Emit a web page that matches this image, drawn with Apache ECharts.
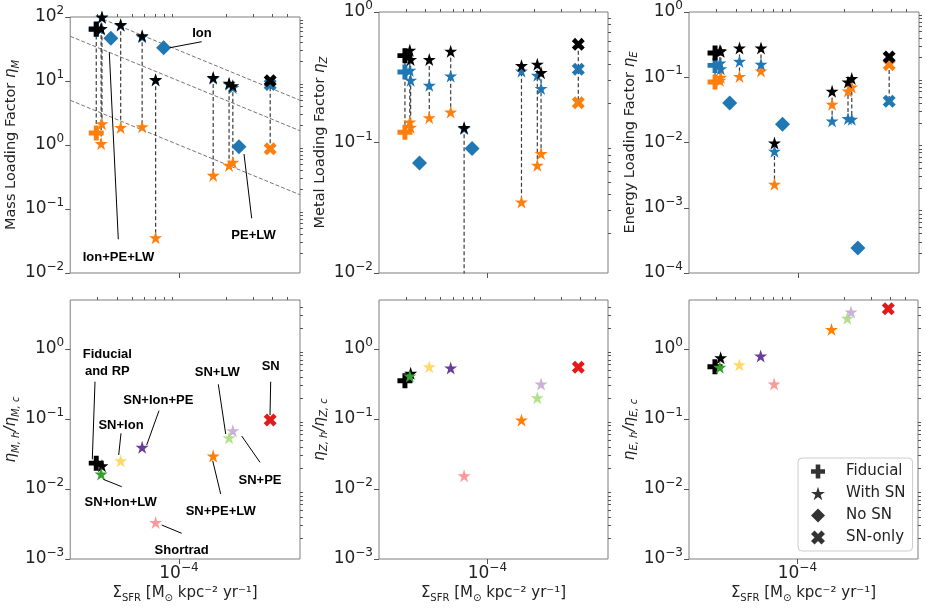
<!DOCTYPE html>
<html>
<head>
<meta charset="utf-8">
<title>Loading factors</title>
<script src="https://cdn.jsdelivr.net/npm/echarts@6/dist/echarts.min.js"></script>
<style>
    html, body {margin: 0; padding: 0; background: #ffffff;}
    #chart {width: 926px; height: 611px;}
</style>
</head>
<body>
<div id="chart"></div>
<script>
// ---- runs with supernovae (x = Sigma_SFR) ----
var runNames  = ['Fiducial', 'RP', 'SN+Ion+LW', 'SN+Ion', 'SN+Ion+PE', 'Shortrad', 'SN+PE+LW', 'SN+LW', 'SN+PE', 'SN'];
var runSfr    = [2.94e-5, 3.2e-5, 3.16e-5, 4.22e-5, 5.8e-5, 7.08e-5, 1.66e-4, 2.1e-4, 2.22e-4, 3.86e-4];
var runMarker = ['plus', 'star', 'star', 'star', 'star', 'star', 'star', 'star', 'star', 'cross'];
var runColors = ['#000000', '#000000', '#33a02c', '#ffd966', '#6a3d9a', '#fb9a99', '#ff7f00', '#b2df8a', '#cab2d6', '#e31a1c'];

// loading factors: total (black), cold (blue), hot (orange)
var massTotal   = [65, 100, 66, 76, 51, 10.5, 11.3, 9.2, 8.45, 10.1];
var massCold    = [63.5, 98, 65, 74, 49, 10.4, 11.0, 8.9, 7.9, 8.8];
var massHot     = [1.54, 2.15, 1.05, 1.88, 1.93, 0.0356, 0.335, 0.48, 0.537, 0.87];
var metalTotal  = [0.463, 0.432, 0.509, 0.432, 0.50, 0.130, 0.388, 0.398, 0.343, 0.565];
var metalCold   = [0.347, 0.30, 0.357, 0.274, 0.323, 0.128, 0.353, 0.327, 0.259, 0.364];
var metalHot    = [0.120, 0.131, 0.1435, 0.155, 0.171, 0.002, 0.035, 0.0669, 0.0822, 0.202];
var energyTotal = [0.235, 0.25, 0.255, 0.281, 0.281, 0.00984, 0.061, 0.0846, 0.0953, 0.205];
var energyCold  = [0.152, 0.135, 0.165, 0.175, 0.158, 0.00733, 0.0214, 0.0232, 0.0227, 0.0428];
var energyHot   = [0.0846, 0.10, 0.09, 0.103, 0.125, 0.00229, 0.0385, 0.0616, 0.071, 0.156];

// hot / cold ratios
var massRatio   = [0.0234, 0.0214, 0.0163, 0.0253, 0.0393, 0.00333, 0.0295, 0.0539, 0.0678, 0.0964];
var metalRatio  = [0.351, 0.448, 0.41, 0.557, 0.533, 0.0154, 0.0964, 0.201, 0.315, 0.546];
var energyRatio = [0.557, 0.748, 0.546, 0.595, 0.792, 0.315, 1.9, 2.74, 3.37, 3.75];

// ---- runs without supernovae ----
var noSnNames  = ['Ion+PE+LW', 'Ion', 'PE+LW'];
var noSnSfr    = [3.65e-5, 7.97e-5, 2.43e-4];
var noSnMass   = [46.5, 33, 0.94];
var noSnMetal  = [0.0697, 0.0898, null];
var noSnEnergy = [0.0403, 0.019, 2.42e-4];

// constant outflow-rate guide lines (end points)
var guideLines = [
    [[3.0e-5, 100], [6e-4, 5.0]],
    [[2e-5, 50], [6e-4, 1.67]],
    [[2e-5, 5], [6e-4, 0.167]]
];

// ---- axes ----
var xRange = [2e-5, 6e-4];
var xMajorTicks = [1e-4];
var xTickLabels = ['{b|10}{p|−4}'];
var yRanges = [[1e-2, 1e2], [1e-2, 1], [1e-4, 1], [1e-3, 5], [1e-3, 5], [1e-3, 5]];
var yMajorTicks = [
    [1e-2, 1e-1, 1, 10, 100],
    [1e-2, 1e-1, 1],
    [1e-4, 1e-3, 1e-2, 1e-1, 1],
    [1e-3, 1e-2, 1e-1, 1],
    [1e-3, 1e-2, 1e-1, 1],
    [1e-3, 1e-2, 1e-1, 1]
];
var yTickLabels = [
    ['{b|10}{p|−2}', '{b|10}{p|−1}', '{b|10}{p|0}', '{b|10}{p|1}', '{b|10}{p|2}'],
    ['{b|10}{p|−2}', '{b|10}{p|−1}', '{b|10}{p|0}'],
    ['{b|10}{p|−4}', '{b|10}{p|−3}', '{b|10}{p|−2}', '{b|10}{p|−1}', '{b|10}{p|0}'],
    ['{b|10}{p|−3}', '{b|10}{p|−2}', '{b|10}{p|−1}', '{b|10}{p|0}'],
    ['{b|10}{p|−3}', '{b|10}{p|−2}', '{b|10}{p|−1}', '{b|10}{p|0}'],
    ['{b|10}{p|−3}', '{b|10}{p|−2}', '{b|10}{p|−1}', '{b|10}{p|0}']
];
var yNames = [
    'Mass Loading Factor {i|η}{s|M}',
    'Metal Loading Factor {i|η}{s|Z}',
    'Energy Loading Factor {i|η}{s|E}',
    '{i|η}{s|M, h}{i|/η}{s|M, c}',
    '{i|η}{s|Z, h}{i|/η}{s|Z, c}',
    '{i|η}{s|E, h}{i|/η}{s|E, c}'
];
var xName = '{n|Σ}{s|SFR}{n| [M}{s|⊙}{n| kpc⁻² yr⁻¹]}';

var grids = [
    {left: 68,  top: 17,  width: 232, height: 256},
    {left: 379, top: 12,  width: 229, height: 261},
    {left: 689, top: 12,  width: 230, height: 261},
    {left: 68,  top: 300, width: 232, height: 259},
    {left: 379, top: 300, width: 229, height: 259},
    {left: 689, top: 300, width: 229, height: 259}
];
var yNameGaps = [43, 44, 44, 43, 44, 43];

var FONT = 'DejaVu Sans';
var C_COLD = '#1f77b4', C_HOT = '#ff7f0e';

var SYM = {
    star: 'path://M0,-1 L0.2245,-0.309 L0.951,-0.309 L0.363,0.118 L0.588,0.809 L0,0.382 L-0.588,0.809 L-0.363,0.118 L-0.951,-0.309 L-0.2245,-0.309 Z',
    plus: 'path://M-1,-0.33 L-0.33,-0.33 L-0.33,-1 L0.33,-1 L0.33,-0.33 L1,-0.33 L1,0.33 L0.33,0.33 L0.33,1 L-0.33,1 L-0.33,0.33 L-1,0.33 Z',
    cross: 'path://M-0.467,-0.941 L0,-0.467 L0.467,-0.941 L0.941,-0.467 L0.467,0 L0.941,0.467 L0.467,0.941 L0,0.467 L-0.467,0.941 L-0.941,0.467 L-0.467,0 L-0.941,-0.467 Z',
    diamond: 'diamond'
};
var SIZE = {star: 13, plus: 15, cross: 13, diamond: 15};

function minorTicks(lo, hi) {
    var out = [];
    for (var e = Math.floor(Math.log10(lo)); e <= Math.ceil(Math.log10(hi)); e++) {
        for (var m = 2; m <= 9; m++) {
            var v = m * Math.pow(10, e);
            if (v > lo * 1.0001 && v < hi * 0.9999) out.push(v);
        }
    }
    return out;
}

function labelFor(ticks, labels) {
    return function (v) {
        for (var k = 0; k < ticks.length; k++) {
            if (Math.abs(Math.log10(v / ticks[k])) < 1e-6) return labels[k];
        }
        return '';
    };
}

var tickColor = '#555555';
var tickRich = {
    b: {fontFamily: FONT, fontSize: 17, color: '#222222', lineHeight: 24},
    p: {fontFamily: FONT, fontSize: 12, color: '#222222', verticalAlign: 'top', lineHeight: 24}
};
var subRich = {
    i: {fontFamily: FONT, fontStyle: 'italic', fontSize: 15},
    s: {fontFamily: FONT, fontStyle: 'italic', fontSize: 10, verticalAlign: 'bottom'},
    n: {fontFamily: FONT, fontSize: 15}
};

var xAxes = [], yAxes = [];
grids.forEach(function (g, i) {
    var bottomRow = i >= 3;
    xAxes.push({
        type: 'log', logBase: 10, gridIndex: i, min: xRange[0], max: xRange[1],
        axisLine: {show: false},
        axisTick: {show: true, length: 5, lineStyle: {color: tickColor}, customValues: xMajorTicks},
        axisLabel: {show: bottomRow, customValues: xMajorTicks, margin: 3, rich: tickRich,
            formatter: labelFor(xMajorTicks, xTickLabels)},
        splitLine: {show: false},
        name: bottomRow ? xName : '', nameLocation: 'middle', nameGap: 19,
        nameTextStyle: {fontFamily: FONT, fontSize: 15, color: '#222222', lineHeight: 20,
            rich: {n: {fontFamily: FONT, fontSize: 15}, s: {fontFamily: FONT, fontSize: 10, verticalAlign: 'bottom'}}}
    });
    yAxes.push({
        type: 'log', logBase: 10, gridIndex: i, min: yRanges[i][0], max: yRanges[i][1],
        axisLine: {show: false},
        axisTick: {show: true, length: 5, lineStyle: {color: tickColor}, customValues: yMajorTicks[i]},
        axisLabel: {customValues: yMajorTicks[i], margin: 6, rich: tickRich,
            formatter: labelFor(yMajorTicks[i], yTickLabels[i])},
        splitLine: {show: false},
        name: yNames[i], nameLocation: 'middle', nameGap: yNameGaps[i], nameRotate: 90,
        nameTextStyle: {fontFamily: FONT, fontSize: 14.5, color: '#222222', lineHeight: 20, rich: subRich}
    });
});
// minor ticks on overlaid axes
grids.forEach(function (g, i) {
    xAxes.push({
        type: 'log', logBase: 10, gridIndex: i, min: xRange[0], max: xRange[1],
        axisLine: {show: false}, axisLabel: {show: false}, splitLine: {show: false},
        axisTick: {show: true, length: 3, lineStyle: {color: tickColor}, customValues: minorTicks(xRange[0], xRange[1])}
    });
    yAxes.push({
        type: 'log', logBase: 10, gridIndex: i, min: yRanges[i][0], max: yRanges[i][1],
        axisLine: {show: false}, axisLabel: {show: false}, splitLine: {show: false},
        axisTick: {show: true, length: 3, lineStyle: {color: tickColor}, customValues: minorTicks(yRanges[i][0], yRanges[i][1])}
    });
});

function markers(gi, xs, ys, kinds, colors, z) {
    var data = [];
    xs.forEach(function (x, r) {
        if (ys[r] == null) return;
        var k = kinds[r];
        data.push({value: [x, ys[r]], symbol: SYM[k], symbolSize: SIZE[k],
            itemStyle: {color: Array.isArray(colors) ? colors[r] : colors}});
    });
    return {type: 'scatter', xAxisIndex: gi, yAxisIndex: gi, data: data, z: z, silent: true, clip: true,
        itemStyle: {opacity: 1}};
}

var series = [];

// guide lines in the mass loading panel
guideLines.forEach(function (seg) {
    series.push({type: 'line', xAxisIndex: 0, yAxisIndex: 0, data: seg, symbol: 'none', silent: true, clip: true,
        lineStyle: {color: '#777777', width: 1, type: [4, 2]}, z: 1});
});

var topSets = [
    [massTotal, massCold, massHot, noSnMass],
    [metalTotal, metalCold, metalHot, noSnMetal],
    [energyTotal, energyCold, energyHot, noSnEnergy]
];
var diamondKinds = noSnSfr.map(function () { return 'diamond'; });

topSets.forEach(function (set, p) {
    runSfr.forEach(function (x, r) {
        var ys = [set[0][r], set[1][r], set[2][r]];
        series.push({type: 'line', xAxisIndex: p, yAxisIndex: p, symbol: 'none', silent: true, clip: true,
            data: [[x, Math.max.apply(null, ys)], [x, Math.min.apply(null, ys)]],
            lineStyle: {color: '#3a3a3a', width: 1.2, type: [4, 2.5]}, z: 2});
    });
    series.push(markers(p, runSfr, set[2], runMarker, C_HOT, 3));
    series.push(markers(p, runSfr, set[1], runMarker, C_COLD, 4));
    series.push(markers(p, runSfr, set[0], runMarker, '#000000', 5));
    series.push(markers(p, noSnSfr, set[3], diamondKinds, C_COLD, 5));
});

[massRatio, metalRatio, energyRatio].forEach(function (ratio, p) {
    series.push(markers(3 + p, runSfr, ratio, runMarker, runColors, 4));
});

// legend entries
var legendItems = [
    {name: 'Fiducial', icon: SYM.plus},
    {name: 'With SN', icon: SYM.star},
    {name: 'No SN', icon: 'diamond'},
    {name: 'SN-only', icon: SYM.cross}
];
legendItems.forEach(function (it) {
    series.push({type: 'scatter', name: it.name, xAxisIndex: 5, yAxisIndex: 5, data: [],
        itemStyle: {color: '#000000'}});
});

// labels drawn next to the points (pixel layout)
var annotations = [
    {text: 'Ion', x: 202, y: 33, line: [170, 47.7, 201.7, 41.7]},
    {text: 'Ion+PE+LW', x: 118.5, y: 257.7, line: [109.3, 52.3, 118.3, 239.3]},
    {text: 'PE+LW', x: 253.5, y: 235, line: [244, 154, 251.7, 218.3]},
    {text: 'Fiducial\nand RP', x: 107.3, y: 362.7, line: [95, 381.7, 92.3, 459.3]},
    {text: 'SN+Ion', x: 121, y: 425.7, line: [121, 433.3, 118.7, 455]},
    {text: 'SN+Ion+PE', x: 158.3, y: 400, line: [159, 410.7, 146.7, 445]},
    {text: 'SN+Ion+LW', x: 120.7, y: 502.3, line: [103.3, 479.3, 121.7, 486.7]},
    {text: 'Shortrad', x: 181.7, y: 550.7, line: [161.7, 525, 181.7, 533.3]},
    {text: 'SN+PE+LW', x: 220.7, y: 511, line: [212.7, 460.7, 220.7, 494]},
    {text: 'SN+LW', x: 217.3, y: 372.3, line: [218.3, 384.3, 225.7, 434]},
    {text: 'SN+PE', x: 260, y: 480, line: [241.7, 436, 260, 462.3]},
    {text: 'SN', x: 270.7, y: 366.7, line: [270.7, 381.7, 270, 415]}
];
var graphics = [];
annotations.forEach(function (a) {
    graphics.push({type: 'line', silent: true, z: 20,
        shape: {x1: a.line[0], y1: a.line[1], x2: a.line[2], y2: a.line[3]},
        style: {stroke: '#000000', lineWidth: 1}});
    graphics.push({type: 'text', silent: true, z: 21, x: a.x, y: a.y,
        style: {text: a.text, font: 'bold 13px "Liberation Sans", Arial, sans-serif', fill: '#000000',
            align: 'center', verticalAlign: 'middle', textAlign: 'center', textVerticalAlign: 'middle',
            lineHeight: 16.7}});
});

var chart = echarts.init(document.getElementById('chart'));
chart.setOption({
    animation: false,
    backgroundColor: '#ffffff',
    grid: grids.map(function (g) {
        return Object.assign({show: true, borderColor: '#7f7f7f', borderWidth: 1, backgroundColor: 'transparent'}, g);
    }),
    xAxis: xAxes,
    yAxis: yAxes,
    legend: {
        left: 798, top: 458, orient: 'vertical', selectedMode: false,
        itemWidth: 14, itemHeight: 14, itemGap: 7,
        padding: [6, 7, 6, 13],
        borderColor: '#cccccc', borderWidth: 1, borderRadius: 4, backgroundColor: '#ffffff',
        textStyle: {fontFamily: FONT, fontSize: 15, color: '#222222', padding: [0, 0, 0, 16]},
        data: legendItems
    },
    graphic: graphics,
    series: series
});
</script>
</body>
</html>
